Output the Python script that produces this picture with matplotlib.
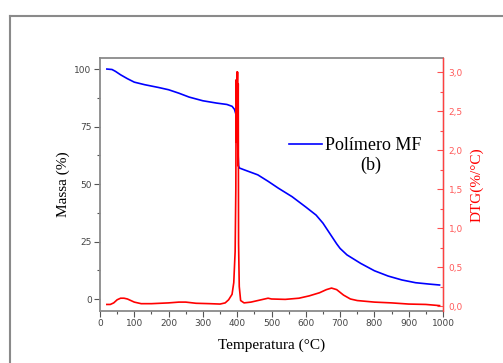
import numpy as np
import matplotlib
matplotlib.use('Agg')
import matplotlib.pyplot as plt
from matplotlib.lines import Line2D
from matplotlib.ticker import MultipleLocator, FuncFormatter

# TG curve (massa %)
temp_tg = [20, 35, 45, 60, 80, 100, 130, 170, 200, 230, 260, 300, 340, 370, 385, 392, 396, 398,
           400, 402, 404, 406, 420, 460, 490, 520, 560, 600, 630, 650, 670, 690, 700, 720, 760,
           800, 840, 880, 920, 960, 990]
massa = [100, 99.8, 99, 97.5, 95.8, 94.3, 93.2, 92, 91, 89.5, 87.8, 86.2, 85.2, 84.6, 83.8, 82.5,
         80.5, 78, 72, 65, 58, 57, 56.2, 54, 51.2, 48.2, 44.5, 40, 36.5, 33, 28.5, 24, 22, 19.2,
         15.5, 12.3, 10, 8.3, 7.1, 6.5, 6.1]

# DTG curve (%/°C)
temp_dtg = [20, 30, 40, 50, 60, 70, 80, 100, 120, 150, 200, 230, 250, 280, 320, 350, 365, 375,
            385, 390, 394, 396, 397, 398, 399, 400, 401, 402, 403, 404, 406, 410, 420, 440,
            460, 480, 490, 500, 540, 580, 610, 640, 660, 675, 690, 710, 730, 750, 800, 850,
            900, 950, 990]
dtg = [0.02, 0.02, 0.04, 0.08, 0.1, 0.1, 0.09, 0.05, 0.03, 0.03, 0.04, 0.05, 0.05, 0.035, 0.03,
       0.025, 0.04, 0.08, 0.15, 0.3, 0.7, 1.5, 2.9, 2.1, 3.0, 2.7, 3.0, 1.8, 2.85, 0.8, 0.25,
       0.07, 0.04, 0.05, 0.07, 0.09, 0.1, 0.09, 0.085, 0.1, 0.13, 0.17, 0.21, 0.23, 0.21, 0.14,
       0.09, 0.07, 0.05, 0.04, 0.025, 0.02, 0.005]

plt.rcParams['font.family'] = 'DejaVu Sans'
fig = plt.figure(figsize=(5.03, 3.63), dpi=100)

# outer frame (top and left edges visible)
fig.add_artist(Line2D([10 / 503, 1], [1 - 16 / 363] * 2, color='#8a8a8a', lw=1.5))
fig.add_artist(Line2D([10 / 503] * 2, [0, 1 - 16 / 363], color='#8a8a8a', lw=1.5))

ax = fig.add_axes([100 / 503, 1 - 311 / 363, 343 / 503, 253 / 363])
ax2 = ax.twinx()

ax.plot(temp_tg, massa, color='#0000ff', lw=1.2, label='Polímero MF')
ax2.plot(temp_dtg, dtg, color='#ff0000', lw=1.2)

ax.set_xlim(0, 1000)
ax.set_ylim(-5.2, 104.8)
ax2.set_ylim(-0.064, 3.18)

ax.xaxis.set_major_locator(MultipleLocator(100))
ax.xaxis.set_minor_locator(MultipleLocator(50))
ax.yaxis.set_major_locator(MultipleLocator(25))
ax.yaxis.set_minor_locator(MultipleLocator(12.5))
ax2.yaxis.set_major_locator(MultipleLocator(0.5))
ax2.yaxis.set_minor_locator(MultipleLocator(0.25))
ax2.yaxis.set_major_formatter(FuncFormatter(lambda v, p: f'{v:.1f}'.replace('.', ',')))

for s in ['left', 'bottom', 'top']:
    ax.spines[s].set_color('#8a8a8a')
    ax.spines[s].set_linewidth(1.3)
ax2.spines['right'].set_color('#ff4040')
ax2.spines['right'].set_linewidth(1.0)
for s in ['left', 'bottom', 'top']:
    ax2.spines[s].set_visible(False)

ax.tick_params(axis='both', which='major', direction='out', length=4, width=0.8,
               color='#555555', labelsize=6.5, labelcolor='#444444', pad=2)
ax.tick_params(axis='both', which='minor', direction='out', length=2.5, width=0.8,
               color='#555555')
ax2.tick_params(axis='y', which='major', direction='in', length=4, width=0.8,
                color='#ff5050', labelsize=6.5, labelcolor='#ff5a5a', pad=4)
ax2.tick_params(axis='y', which='minor', direction='in', length=2.5, width=0.8,
                color='#ff5050')

ax.set_xlabel('Temperatura (°C)', family='Liberation Serif', fontsize=11, labelpad=7)
ax.set_ylabel('Massa (%)', family='Liberation Serif', fontsize=11, labelpad=3)
ax2.set_ylabel('DTG(%/°C)', family='Liberation Serif', fontsize=11, color='#ff0000',
               labelpad=5)

leg = ax.legend(loc='upper left', bbox_to_anchor=(0.53, 0.715), frameon=False,
                prop={'family': 'Liberation Serif', 'size': 13}, handlelength=1.85,
                handletextpad=0.15, borderaxespad=0)
ax.text(0.788, 0.575, '(b)', transform=ax.transAxes, family='Liberation Serif',
        fontsize=13, ha='center', va='center')

fig.savefig('out.png', dpi=100)
